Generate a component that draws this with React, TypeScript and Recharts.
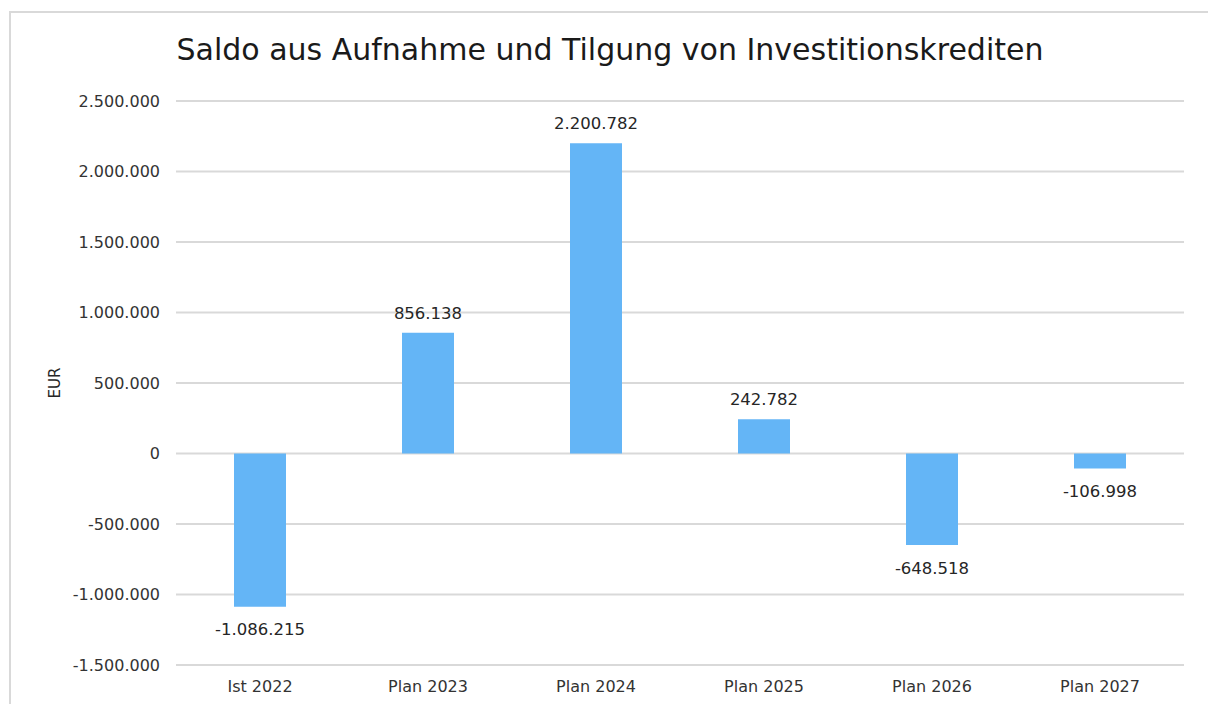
import { BarChart, Bar, XAxis, YAxis, CartesianGrid, LabelList, Label } from "recharts";

const categories = ["Ist 2022", "Plan 2023", "Plan 2024", "Plan 2025", "Plan 2026", "Plan 2027"];
const saldo = [-1086215, 856138, 2200782, 242782, -648518, -106998];
const yTicks = [-1500000, -1000000, -500000, 0, 500000, 1000000, 1500000, 2000000, 2500000];

const title = "Saldo aus Aufnahme und Tilgung von Investitionskrediten";
const yLabel = "EUR";

const data = categories.map((name, i) => ({ name, value: saldo[i] }));

const FONT = "'DejaVu Sans', Verdana, sans-serif";

// German thousands separator
const fmt = (v: number) => {
  const s = Math.abs(Math.round(v)).toString().replace(/\B(?=(\d{3})+(?!\d))/g, ".");
  return v < 0 ? `-${s}` : s;
};

const ValueLabel = (props: any) => {
  const { x, y, width, height, value } = props;
  const top = Math.min(y, y + height);
  const bottom = Math.max(y, y + height);
  const cy = value >= 0 ? top - 20 : bottom + 23;
  return (
    <text x={x + width / 2} y={cy} dy="0.35em" textAnchor="middle" fontSize={16.5} fill="#262626" fontFamily={FONT}>
      {fmt(value)}
    </text>
  );
};

const AxisTitle = (props: any) => {
  const vb = props.viewBox || { x: 0, y: 0, width: 0, height: 0 };
  const cx = 55;
  const cy = vb.y + vb.height / 2;
  return (
    <text x={cx} y={cy} dy="0.35em" textAnchor="middle" fontSize={15} fill="#262626" fontFamily={FONT} transform={`rotate(-90 ${cx} ${cy})`}>
      {yLabel}
    </text>
  );
};

const App = () => {
  return (
    <div style={{ position: "absolute", left: 0, top: 0, width: 1208, height: 704, background: "#fff", overflow: "hidden", fontFamily: FONT }}>
      <div style={{ position: "absolute", left: 9, top: 11, width: 1220, height: 720, border: "2px solid #d9d9d9", boxSizing: "border-box" }} />
      <div style={{ position: "absolute", left: 6, top: 32, width: 1208, textAlign: "center", fontSize: 30, lineHeight: "36px", color: "#1a1a1a" }}>
        {title}
      </div>
      <div style={{ position: "absolute", left: 0, top: 0 }}>
        <BarChart width={1208} height={704} data={data} margin={{ top: 101, right: 24, bottom: 0, left: 0 }}>
          <CartesianGrid vertical={false} stroke="#d9d9d9" strokeWidth={2} />
          <XAxis
            dataKey="name"
            height={39}
            axisLine={false}
            tickLine={false}
            tickSize={0}
            tickMargin={16}
            tick={{ fontSize: 16, fill: "#333", fontFamily: FONT }}
          />
          <YAxis
            width={176}
            domain={[-1500000, 2500000]}
            ticks={yTicks}
            interval={0}
            axisLine={false}
            tickLine={false}
            tickSize={0}
            tickMargin={16}
            tickFormatter={fmt}
            tick={{ fontSize: 16, fill: "#333", fontFamily: FONT }}
          >
            <Label content={<AxisTitle />} />
          </YAxis>
          <Bar dataKey="value" fill="#64b5f6" barSize={52} isAnimationActive={false}>
            <LabelList dataKey="value" content={<ValueLabel />} />
          </Bar>
        </BarChart>
      </div>
    </div>
  );
};

export default App;
